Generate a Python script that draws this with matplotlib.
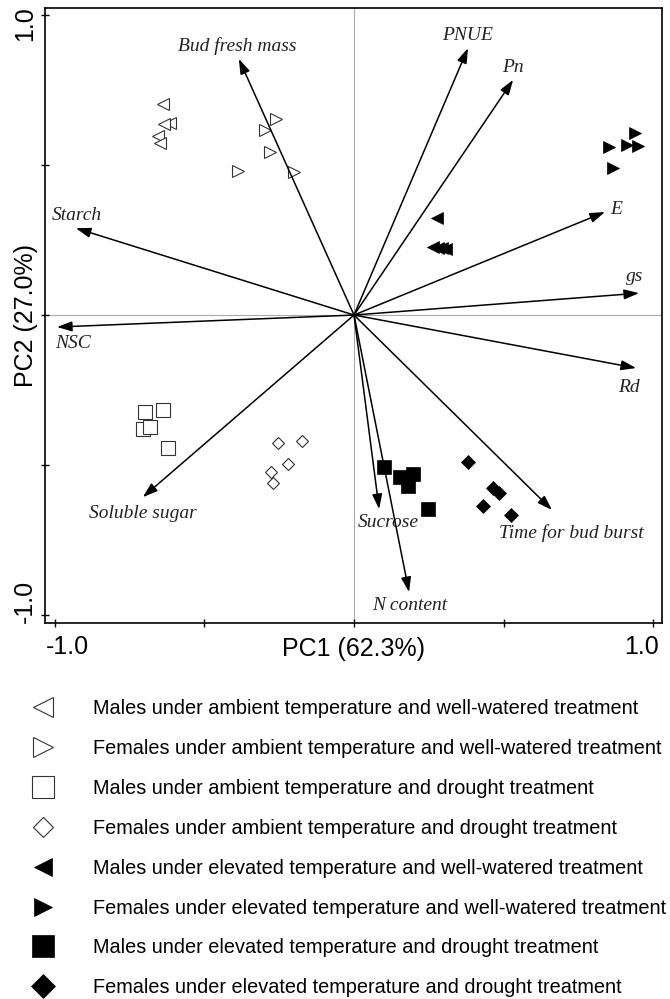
import matplotlib
matplotlib.use("Agg")
import matplotlib.pyplot as plt
import matplotlib.transforms as mtransforms

# loadings (arrow tips)
var_names = ["Bud fresh mass", "Starch", "NSC", "Soluble sugar", "PNUE", "Pn",
             "E", "gs", "Rd", "Time for bud burst", "Sucrose", "N content"]
load_pc1 = [-0.385, -0.930, -0.993, -0.706, 0.381, 0.532,
            0.839, 0.953, 0.943, 0.662, 0.084, 0.184]
load_pc2 = [0.855, 0.290, -0.040, -0.608, 0.891, 0.785,
            0.344, 0.073, -0.177, -0.651, -0.648, -0.925]

# sample scores per group
m_amb_ww_x = [-0.639, -0.615, -0.635, -0.656, -0.649]
m_amb_ww_y = [0.705, 0.641, 0.638, 0.598, 0.574]
f_amb_ww_x = [-0.261, -0.298, -0.281, -0.388, -0.201]
f_amb_ww_y = [0.654, 0.618, 0.544, 0.481, 0.477]
m_amb_dr_x = [-0.699, -0.639, -0.706, -0.682, -0.622]
m_amb_dr_y = [-0.324, -0.317, -0.381, -0.374, -0.444]
f_amb_dr_x = [-0.254, -0.174, -0.221, -0.278, -0.271]
f_amb_dr_y = [-0.427, -0.421, -0.497, -0.524, -0.561]
m_elv_ww_x = [0.278, 0.264, 0.281, 0.294, 0.308]
m_elv_ww_y = [0.324, 0.227, 0.224, 0.224, 0.220]
f_elv_ww_x = [0.940, 0.853, 0.913, 0.950, 0.866]
f_elv_ww_y = [0.608, 0.561, 0.568, 0.564, 0.491]
m_elv_dr_x = [0.100, 0.154, 0.197, 0.181, 0.247]
m_elv_dr_y = [-0.508, -0.541, -0.531, -0.571, -0.648]
f_elv_dr_x = [0.381, 0.465, 0.485, 0.431, 0.525]
f_elv_dr_y = [-0.491, -0.578, -0.594, -0.638, -0.668]

group_labels = [
    "Males under ambient temperature and well-watered treatment",
    "Females under ambient temperature and well-watered treatment",
    "Males under ambient temperature and drought treatment",
    "Females under ambient temperature and drought treatment",
    "Males under elevated temperature and well-watered treatment",
    "Females under elevated temperature and well-watered treatment",
    "Males under elevated temperature and drought treatment",
    "Females under elevated temperature and drought treatment",
]

plt.rcParams['font.family'] = ['Liberation Sans', 'DejaVu Sans']

fig = plt.figure(figsize=(6.7, 9.99), dpi=100)
ax = fig.add_axes([0.0672, 0.3764, 0.921, 0.6156])
ax.set_xlim(-1.033, 1.030)
ax.set_ylim(-1.028, 1.025)

ax.axhline(0, color='#aaaaaa', lw=0.8, zorder=0)
ax.axvline(0, color='#aaaaaa', lw=0.8, zorder=0)

# label offsets (points) relative to arrow tips
label_off = [(-1, 9), (1, 9), (11.5, -12), (0, -11.5), (0, 9.4), (0, 8.6),
             (8, 1.5), (-3, 12), (-5, -14), (14, -16.5), (6.5, -9.4), (0.7, -9.4)]

for name, lx, ly, off in zip(var_names, load_pc1, load_pc2, label_off):
    ax.annotate("", xy=(lx, ly), xytext=(0, 0),
                arrowprops=dict(arrowstyle='-|>,head_length=0.6,head_width=0.2',
                                color='black', lw=1.1, shrinkA=0, shrinkB=0,
                                mutation_scale=15))
    ax.annotate(name, xy=(lx, ly), xytext=off, textcoords='offset points',
                ha='center', va='center', fontsize=14, style='italic',
                family=['Liberation Serif'], color='#222222')

open_kw = dict(ls='none', mfc='white', mec='#333333', mew=0.8)
fill_kw = dict(ls='none', mfc='black', mec='black', mew=0.5)
h = []
h += ax.plot(m_amb_ww_x, m_amb_ww_y, marker='<', ms=9, label=group_labels[0], **open_kw)
h += ax.plot(f_amb_ww_x, f_amb_ww_y, marker='>', ms=9, label=group_labels[1], **open_kw)
h += ax.plot(m_amb_dr_x, m_amb_dr_y, marker='s', ms=9.5, label=group_labels[2], **open_kw)
h += ax.plot(f_amb_dr_x, f_amb_dr_y, marker='D', ms=6.5, label=group_labels[3], **open_kw)
h += ax.plot(m_elv_ww_x, m_elv_ww_y, marker='<', ms=8, label=group_labels[4], **fill_kw)
h += ax.plot(f_elv_ww_x, f_elv_ww_y, marker='>', ms=8, label=group_labels[5], **fill_kw)
h += ax.plot(m_elv_dr_x, m_elv_dr_y, marker='s', ms=9.5, label=group_labels[6], **fill_kw)
h += ax.plot(f_elv_dr_x, f_elv_dr_y, marker='D', ms=7.5, label=group_labels[7], **fill_kw)

ax.set_xticks([-1, -0.5, 0, 0.5, 1])
xl = ax.set_xticklabels(['-1.0', '', '', '', '1.0'], fontsize=18)
ax.set_yticks([-1, -0.5, 0, 0.5, 1])
yl = ax.set_yticklabels(['-1.0', '', '', '', '1.0'], fontsize=18, rotation=90, va='center')
ax.tick_params(direction='inout', length=6, width=1)
ax.tick_params(axis='y', pad=3)
ax.tick_params(axis='x', pad=6)

# nudge the end labels inward, as in the original
for lab, dx in zip(xl, [13, 0, 0, 0, -12]):
    lab.set_transform(lab.get_transform() + mtransforms.ScaledTranslation(dx / 100, 0, fig.dpi_scale_trans))
for lab, dy in zip(yl, [13, 0, 0, 0, -8]):
    lab.set_transform(lab.get_transform() + mtransforms.ScaledTranslation(0, dy / 100, fig.dpi_scale_trans))

ax.set_xlabel("PC1 (62.3%)", fontsize=18)
ax.set_ylabel("PC2 (27.0%)", fontsize=18)
ax.xaxis.set_label_coords(0.5, -0.022)
ax.yaxis.set_label_coords(-0.0108, 0.5)
for s in ax.spines.values():
    s.set_linewidth(1.2)

fig.legend(handles=h, loc='upper left', bbox_to_anchor=(0.0405, 0.300),
           frameon=False, fontsize=14.3, markerscale=1.6, numpoints=1,
           handlelength=1.6, handletextpad=1.72, labelspacing=1.05,
           borderaxespad=0, borderpad=0)

fig.savefig("out.png", dpi=100)
